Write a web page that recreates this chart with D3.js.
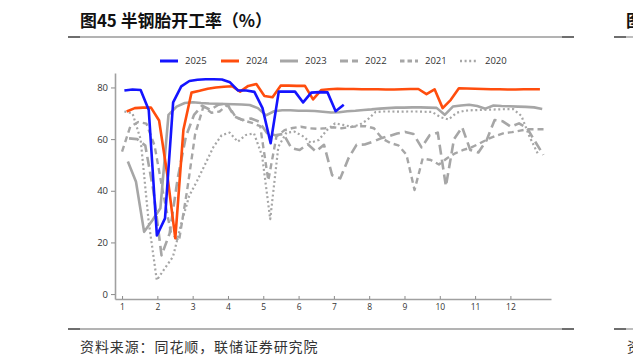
<!DOCTYPE html>
<html><head><meta charset="utf-8">
<script src="https://cdn.jsdelivr.net/npm/d3@7"></script>
<style>body{margin:0;background:#fff} svg{display:block}</style>
</head><body>
<svg id="c" width="633" height="359"></svg>
<script>
// ---- data ----
const monthTicks = [1,2,3,4,5,6,7,8,9,10,11,12];
const yTicks = [0,20,40,60,80];
const seriesNames = ["2025","2024","2023","2022","2021","2020"];
const firstWeek = ["2025-01-03","2024-01-05","2023-01-06","2022-01-07","2021-01-01","2020-01-03"];

const v2025 = [78.8,79.2,79.0,71.3,22.7,29.3,74.2,80.4,82.5,83.0,83.2,83.2,83.1,82.0,78.8,78.8,78.3,72.0,58.4,78.4,78.4,78.4,74.2,78.0,78.2,78.1,70.8,73.3];
const v2024 = [70.7,72.0,72.2,72.2,67.2,46.5,21.6,63.6,78.0,78.7,79.5,80.0,80.3,80.5,78.4,80.6,81.3,76.7,76.2,80.7,80.7,80.6,80.6,75.4,79.0,79.3,
  79.5,79.4,79.4,79.3,79.3,79.3,79.2,79.2,79.3,79.4,79.4,77.4,79.3,72.0,75.2,79.7,79.6,79.5,79.4,79.3,79.3,79.2,79.2,79.3,79.3,79.3];
const v2023 = [51.3,43.5,24.1,28.5,33.2,69.4,72.6,74.0,74.3,74.0,73.8,73.7,73.6,73.5,73.4,73.2,72.0,69.2,70.8,71.2,71.2,71.0,71.0,70.9,70.6,70.3,
  70.4,70.8,71.0,71.3,71.5,71.8,72.0,72.2,72.2,72.3,72.3,72.2,72.1,69.4,72.6,73.0,73.3,72.8,71.8,73.0,72.8,72.7,72.6,72.5,72.3,71.7];
const v2022 = [60.3,60.0,57.5,40.0,15.0,23.5,45.0,61.0,69.4,73.0,71.3,73.3,73.9,68.7,67.4,68.0,66.8,62.3,61.5,62.0,56.5,55.8,58.0,55.2,57.8,46.0,
  44.8,52.5,57.8,57.9,59.0,60.3,61.2,62.2,62.8,62.0,56.8,61.5,62.5,41.8,60.0,64.6,55.8,54.8,59.5,67.4,66.9,64.8,66.1,64.2,59.0,53.9];
const v2021 = [55.2,64.8,66.6,66.0,57.5,40.0,24.0,20.5,40.0,62.0,72.5,70.2,70.7,73.3,68.5,67.2,66.3,65.0,44.0,61.0,63.5,64.3,64.8,64.2,64.0,64.2,
  64.6,64.2,64.6,65.0,65.0,64.2,60.3,58.5,57.6,54.0,40.3,52.5,51.9,50.2,52.6,54.5,55.8,56.8,58.3,60.0,61.3,62.3,62.7,63.3,63.8,63.8,63.8];
const v2020 = [70.7,70.0,60.0,28.0,5.4,10.0,14.5,27.0,38.0,44.0,50.5,57.0,61.5,62.5,59.0,61.6,62.2,53.5,29.0,57.0,62.5,62.9,61.2,58.6,59.7,63.5,
  66.1,65.5,64.8,65.5,67.5,70.5,70.7,70.7,70.6,70.7,70.7,70.6,70.5,68.5,67.6,70.2,71.0,71.2,71.3,71.4,71.5,71.6,71.6,69.0,61.0,54.5];
const seriesValues = [v2025,v2024,v2023,v2022,v2021,v2020];

// ---- styles ----
const style = {
  "2025": {color:"#1414ff", dash:null, w:2.6},
  "2024": {color:"#ff4d0d", dash:null, w:2.6},
  "2023": {color:"#a6a6a6", dash:null, w:2.6},
  "2022": {color:"#a6a6a6", dash:"10,5", w:2.6},
  "2021": {color:"#a6a6a6", dash:"6,4", w:2.4},
  "2020": {color:"#a6a6a6", dash:"2,2.6", w:2.2}
};

const svg = d3.select("#c");
const x = d3.scaleLinear().domain([0.8, 13.15]).range([115, 551]);
const y = d3.scaleLinear().domain([-1.9, 85.6]).range([299, 73]);
const parse = d3.utcParse("%Y-%m-%d");
function monthPos(d){
  const yr = d.getUTCFullYear();
  const a = Date.UTC(yr,0,1), b = Date.UTC(yr+1,0,1);
  return 1 + (d - a) / (b - a) * 12;
}
const series = seriesNames.map((n,k) => {
  const start = parse(firstWeek[k]);
  return {name:n, pts: seriesValues[k].map((v,i) => ({m: monthPos(d3.utcDay.offset(start, 7*i)), v}))};
});

const line = d3.line().x(d => x(d.m)).y(d => y(d.v));
const drawOrder = ["2020","2021","2022","2023","2024","2025"];
drawOrder.forEach(n => {
  const s = series.find(s => s.name === n), st = style[n];
  svg.append("path").datum(s.pts).attr("d", line)
    .attr("fill","none").attr("stroke", st.color).attr("stroke-width", st.w)
    .attr("stroke-dasharray", st.dash).attr("stroke-linejoin","round");
});

// axes
const fontAxis = "'Open Sans', 'Noto Sans', sans-serif";
const xa = svg.append("g").attr("transform","translate(0,299)")
  .call(d3.axisBottom(x).tickValues(monthTicks).tickSize(-3).tickSizeOuter(0).tickPadding(5));
const ya = svg.append("g").attr("transform","translate(115,0)")
  .call(d3.axisLeft(y).tickValues(yTicks).tickSize(4).tickSizeOuter(0).tickPadding(3));
[xa, ya].forEach(g => {
  g.select(".domain").attr("stroke","#a0a0a0").attr("stroke-width",1.6);
  g.selectAll(".tick line").attr("stroke","#8a8a8a");
  g.selectAll(".tick text").attr("fill","#333").style("font-family", fontAxis);
});
xa.selectAll(".tick text").style("font-size","8.5px");
ya.selectAll(".tick text").style("font-size","9.5px");

// legend
const legX = [160, 221, 280, 340, 400, 460];
seriesNames.forEach((n,k) => {
  const st = style[n], g = svg.append("g").attr("transform", `translate(${legX[k]},61)`);
  g.append("line").attr("x1",0).attr("x2",18).attr("y1",0).attr("y2",0)
    .attr("stroke", st.color).attr("stroke-width", st.w + 0.4)
    .attr("stroke-dasharray", n==="2022" ? "8,4" : n==="2021" ? "4.5,3" : st.dash);
  g.append("text").attr("x",25).attr("y",0).attr("dy","0.35em").text(n)
    .style("font-family", fontAxis).style("font-size","9.5px").attr("fill","#333");
});

// title, rules and source
const cjk = "'Noto Sans CJK SC', sans-serif";
svg.append("text").attr("x",80).attr("y",27).text("图45 半钢胎开工率（%）")
  .attr("textLength",192).attr("lengthAdjust","spacingAndGlyphs")
  .style("font-family", cjk).style("font-size","17px").style("font-weight","bold").attr("fill","#111");
[37, 329].forEach(yy => {
  svg.append("line").attr("x1",68).attr("x2",574).attr("y1",yy).attr("y2",yy).attr("stroke","#9a9a9a").attr("stroke-width",1.3);
  svg.append("line").attr("x1",68).attr("x2",80).attr("y1",yy).attr("y2",yy).attr("stroke","#6e6e6e").attr("stroke-width",2);
  svg.append("line").attr("x1",562).attr("x2",574).attr("y1",yy).attr("y2",yy).attr("stroke","#6e6e6e").attr("stroke-width",2);
  svg.append("line").attr("x1",614).attr("x2",633).attr("y1",yy).attr("y2",yy).attr("stroke","#9a9a9a").attr("stroke-width",1.3);
  svg.append("line").attr("x1",614).attr("x2",626).attr("y1",yy).attr("y2",yy).attr("stroke","#6e6e6e").attr("stroke-width",2);
});
svg.append("text").attr("x",626).attr("y",27).text("图")
  .style("font-family", cjk).style("font-size","17px").style("font-weight","bold").attr("fill","#111");
svg.append("text").attr("x",80).attr("y",352).text("资料来源：同花顺，联储证券研究院")
  .style("font-family", cjk).style("font-size","14px").style("letter-spacing","0.9px").attr("fill","#333");
svg.append("text").attr("x",627).attr("y",352).text("资")
  .style("font-family", cjk).style("font-size","14px").attr("fill","#333");
</script>
</body></html>
